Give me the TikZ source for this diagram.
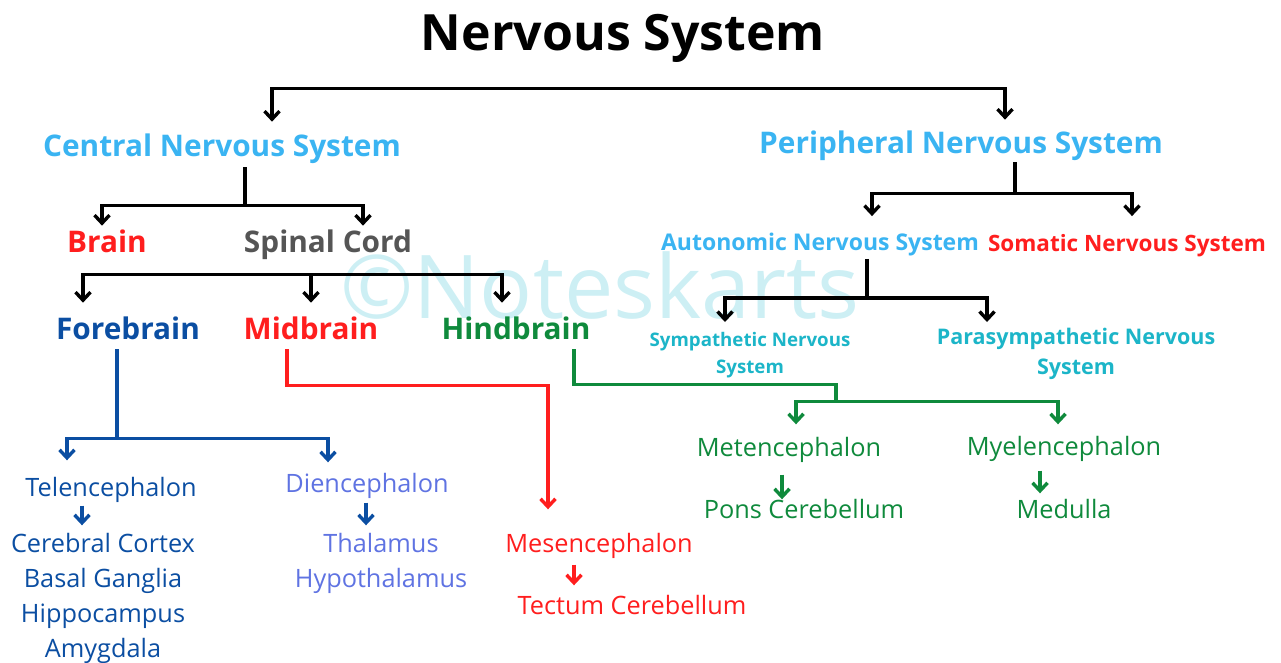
\documentclass[tikz,border=0pt]{standalone}
\usepackage{fontspec}
\setmainfont{Open Sans}
\usetikzlibrary{arrows.meta}

\definecolor{cnsblue}{HTML}{3AB4F2}
\definecolor{nsred}{HTML}{FF1E1E}
\definecolor{cordgray}{HTML}{555555}
\definecolor{foreblue}{HTML}{0B4EA2}
\definecolor{hindgreen}{HTML}{0F8A3C}
\definecolor{sympteal}{HTML}{1CB5C8}
\definecolor{dienblue}{HTML}{5F73E2}
\definecolor{markcyan}{HTML}{CDEFF4}

\begin{document}
\begin{tikzpicture}[x=1pt,y=-1pt,line width=3.4pt,
    lbl/.style={inner sep=2pt, text depth=0pt},
    head/.style={lbl, text height=21.3pt, font=\fontsize{29.8}{36}\selectfont\bfseries},
    sub/.style={lbl, text height=16.4pt, font=\fontsize{23}{28}\selectfont\bfseries},
    leaf/.style={lbl, text height=18pt, font=\fontsize{25.3}{30}\selectfont},
    >={Straight Barb[length=8pt,width=15pt]}]
  \useasboundingbox (0,0) rectangle (1281,663);
  % watermark
  \node[markcyan, font=\fontsize{88}{100}\selectfont] (mark) at (600,285) {©Noteskarts};

  \node[lbl, text height=35.7pt, font=\fontsize{50}{60}\selectfont\bfseries] (nervous) at (623,33) {Nervous System};
  \node[head, cnsblue] (cns) at (222,146) {Central Nervous System};
  \node[head, cnsblue] (pns) at (961,143) {Peripheral Nervous System};
  \node[head, nsred] (brain) at (107,242) {Brain};
  \node[head, cordgray] (cord) at (328,242) {Spinal Cord};
  \node[sub, cnsblue] (ans) at (820,242) {Autonomic Nervous System};
  \node[sub, nsred, font=\fontsize{22.5}{27}\selectfont\bfseries] (sns) at (1127,243) {Somatic Nervous System};
  \node[head, foreblue] (fore) at (128,329) {Forebrain};
  \node[head, nsred] (mid) at (311,329) {Midbrain};
  \node[head, hindgreen] (hind) at (516,329) {Hindbrain};
  \node[inner sep=0pt, anchor=north, align=center, sympteal,
    font=\fontsize{18.7}{27}\selectfont\bfseries] (symp) at (750,331) {Sympathetic Nervous\\System};
  \node[inner sep=0pt, anchor=north, align=center, sympteal,
    font=\fontsize{21.5}{30}\selectfont\bfseries] (para) at (1076,326) {Parasympathetic Nervous\\System};

  % forebrain
  \node[leaf, foreblue] (tel) at (111,487) {Telencephalon};
  \node[leaf, foreblue] (cortex) at (103,543) {Cerebral Cortex};
  \node[leaf, foreblue] (ganglia) at (103,578) {Basal Ganglia};
  \node[leaf, foreblue] (hippo) at (103,613) {Hippocampus};
  \node[leaf, foreblue] (amyg) at (103,648) {Amygdala};
  \node[leaf, dienblue] (dien) at (367,483) {Diencephalon};
  \node[leaf, dienblue] (thal) at (381,543) {Thalamus};
  \node[leaf, dienblue] (hypo) at (381,578) {Hypothalamus};
  % midbrain
  \node[leaf, nsred] (mes) at (599,543) {Mesencephalon};
  \node[leaf, nsred] (tectum) at (632,605) {Tectum Cerebellum};
  % hindbrain
  \node[leaf, hindgreen] (met) at (789,447) {Metencephalon};
  \node[leaf, hindgreen] (pons) at (804,509) {Pons Cerebellum};
  \node[leaf, hindgreen] (myel) at (1064,446) {Myelencephalon};
  \node[leaf, hindgreen] (medulla) at (1064,509) {Medulla};

  % black brackets
  \draw[<->] ([xshift=50pt,yshift=10pt]cns.north) -- ++(0,-33) -| ([xshift=44pt,yshift=9pt]pns.north);
  \draw ([xshift=23pt,yshift=-7pt]cns.south) -- ++(0,38) coordinate (cj);
  \draw[->] (cj) -| ([xshift=-5pt,yshift=2pt]brain.north);
  \draw[->] (cj) -| ([xshift=35pt,yshift=2pt]cord.north);
  \draw[->] ([yshift=40pt]mid.north) coordinate (bj) -- ([yshift=12pt]mid.north);
  \draw[->] (bj) -| ([xshift=-45pt,yshift=12pt]fore.north);
  \draw[->] (bj) -| ([xshift=-14pt,yshift=12pt]hind.north);
  \draw ([xshift=54pt,yshift=-5pt]pns.south) -- ++(0,31) coordinate (pj);
  \draw[->] (pj) -| ([xshift=52pt,yshift=14pt]ans.north);
  \draw[->] (pj) -| ([xshift=5pt,yshift=15pt]sns.north);
  \draw ([xshift=47pt,yshift=-5pt]ans.south) -- ++(0,39) coordinate (aj);
  \draw[->] (aj) -| ([xshift=-25pt,yshift=9pt]symp.north);
  \draw[->] (aj) -| ([xshift=-89pt,yshift=4pt]para.north);

  % coloured brackets
  \draw[foreblue] ([xshift=-11pt,yshift=-6pt]fore.south) -- ++(0,89) coordinate (fj);
  \draw[foreblue,->] (fj) -| ([xshift=-44pt,yshift=14pt]tel.north);
  \draw[foreblue,->] (fj) -| ([xshift=-39pt,yshift=8pt]dien.north);
  \draw[nsred,->] ([xshift=-24pt,yshift=-6pt]mid.south) -- ++(0,36) -| ([xshift=-51pt,yshift=21pt]mes.north);
  \draw[hindgreen] ([xshift=58pt,yshift=-6pt]hind.south) -- ++(0,35) -- ++(262,0) -- ++(0,17) coordinate (hj);
  \draw[hindgreen,->] (hj) -| ([xshift=7pt,yshift=10pt]met.north);
  \draw[hindgreen,->] (hj) -| ([xshift=-6pt,yshift=9pt]myel.north);

  % single steps
  \draw[foreblue,->] ([xshift=-29pt,yshift=-6pt]tel.south) -- ([xshift=-21pt,yshift=5pt]cortex.north);
  \draw[foreblue,->] ([xshift=-1pt,yshift=-7pt]dien.south) -- ([xshift=-15pt,yshift=5pt]thal.north);
  \draw[nsred,->] ([xshift=-25pt,yshift=-9pt]mes.south) -- ([xshift=-58pt,yshift=7pt]tectum.north);
  \draw[hindgreen,->] ([xshift=-7pt,yshift=-15pt]met.south) -- ([xshift=-22pt,yshift=-3pt]pons.north);
  \draw[hindgreen,->] ([xshift=-24pt,yshift=-12pt]myel.south) -- ([xshift=-24pt,yshift=3pt]medulla.north);
\end{tikzpicture}
\end{document}
